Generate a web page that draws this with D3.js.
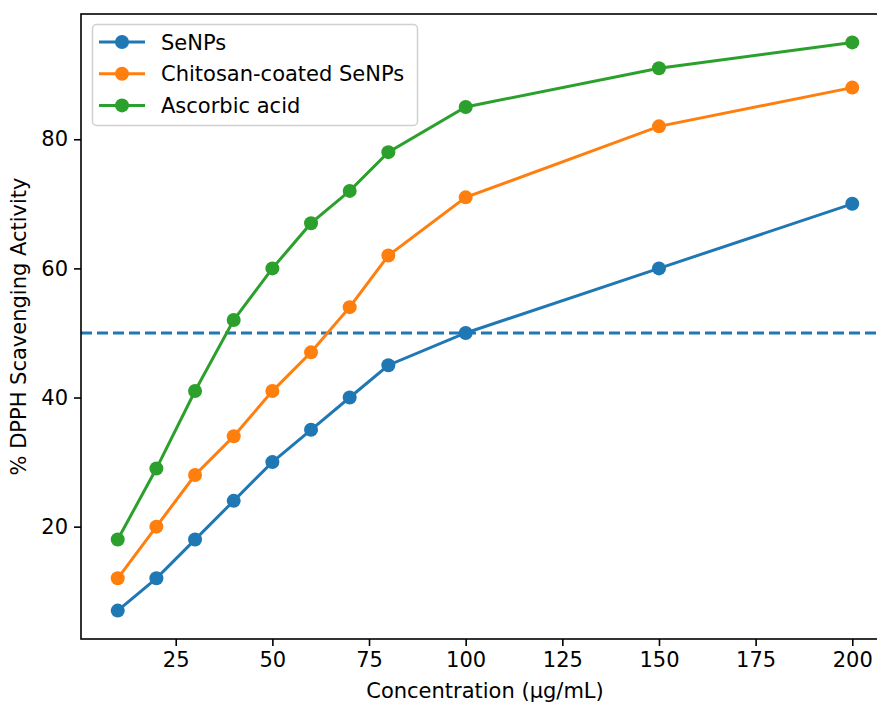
<!DOCTYPE html>
<html><head><meta charset="utf-8">
<script src="https://cdn.jsdelivr.net/npm/d3@7"></script>
<style>body{margin:0;background:#fff;} svg{display:block;font-family:"DejaVu Sans",sans-serif;}</style>
</head><body>
<svg id="c" width="877" height="704"></svg>
<script>
const concentrations = [10, 20, 30, 40, 50, 60, 70, 80, 100, 150, 200];
const seNPs = [7, 12, 18, 24, 30, 35, 40, 45, 50, 60, 70];
const chitosanSeNPs = [12, 20, 28, 34, 41, 47, 54, 62, 71, 82, 88];
const ascorbicAcid = [18, 29, 41, 52, 60, 67, 72, 78, 85, 91, 95];
const seriesNames = ["SeNPs", "Chitosan-coated SeNPs", "Ascorbic acid"];
const seriesColors = ["#1f77b4", "#ff7f0e", "#2ca02c"];
const xTicks = [25, 50, 75, 100, 125, 150, 175, 200];
const yTicks = [20, 40, 60, 80];
const threshold = 50;

const series = [seNPs, chitosanSeNPs, ascorbicAcid];
const svg = d3.select("#c");
const L = 81, R = 889, T = 14, B = 639;
const x = d3.scaleLinear().domain([0.5, 209.5]).range([L, R]);
const y = d3.scaleLinear().domain([2.6, 99.4]).range([B, T]);
const fs = 21;

// dashed threshold
svg.append("line").attr("x1", L).attr("x2", R).attr("y1", y(threshold)).attr("y2", y(threshold))
  .attr("stroke", seriesColors[0]).attr("stroke-width", 3).attr("stroke-dasharray", "11,5");

const line = d3.line().x((d, i) => x(concentrations[i])).y(d => y(d));
series.forEach((s, k) => {
  svg.append("path").attr("d", line(s)).attr("fill", "none")
    .attr("stroke", seriesColors[k]).attr("stroke-width", 3);
  svg.selectAll(null).data(s).enter().append("circle")
    .attr("cx", (d, i) => x(concentrations[i])).attr("cy", d => y(d)).attr("r", 7)
    .attr("fill", seriesColors[k]);
});

// axes
const xa = svg.append("g").attr("transform", `translate(0,${B})`)
  .call(d3.axisBottom(x).tickValues(xTicks).tickSize(7).tickPadding(6).tickSizeOuter(0));
const ya = svg.append("g").attr("transform", `translate(${L},0)`)
  .call(d3.axisLeft(y).tickValues(yTicks).tickSize(7).tickPadding(6).tickSizeOuter(0));
[xa, ya].forEach(g => {
  g.select(".domain").remove();
  g.selectAll("line").attr("stroke", "#000").attr("stroke-width", 1.6);
  g.selectAll("text").attr("font-size", fs).attr("fill", "#000").attr("font-family", "DejaVu Sans");
});
// spines
svg.append("rect").attr("x", L).attr("y", T).attr("width", R - L).attr("height", B - T)
  .attr("fill", "none").attr("stroke", "#000").attr("stroke-width", 1.6);

svg.append("text").attr("x", (L + R) / 2).attr("y", 698).attr("text-anchor", "middle")
  .attr("font-size", fs).text("Concentration (µg/mL)");
svg.append("text").attr("transform", `translate(26,${(T + B) / 2}) rotate(-90)`)
  .attr("text-anchor", "middle").attr("font-size", fs).text("% DPPH Scavenging Activity");

// legend
const lg = svg.append("g");
lg.append("rect").attr("x", 92.5).attr("y", 24.5).attr("width", 325).attr("height", 101)
  .attr("rx", 4).attr("fill", "#fff").attr("fill-opacity", 0.8).attr("stroke", "#d0d0d0").attr("stroke-width", 1.5);
seriesNames.forEach((n, k) => {
  const yy = 42 + k * 31.7;
  lg.append("line").attr("x1", 99).attr("x2", 145).attr("y1", yy).attr("y2", yy)
    .attr("stroke", seriesColors[k]).attr("stroke-width", 3);
  lg.append("circle").attr("cx", 122).attr("cy", yy).attr("r", 7).attr("fill", seriesColors[k]);
  lg.append("text").attr("x", 161).attr("y", yy + 7.5).attr("font-size", fs).text(n);
});
</script>
</body></html>
